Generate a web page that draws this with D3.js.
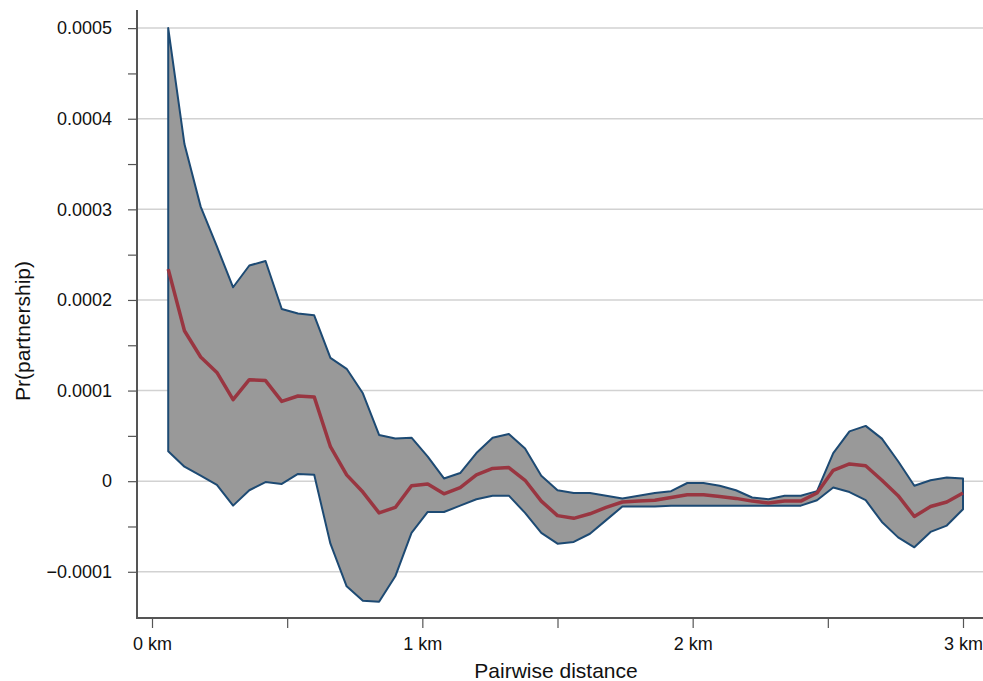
<!DOCTYPE html>
<html>
  <head>
    <title>Pr(partnership) by pairwise distance</title>
    <style>
      html,
      body {
        margin: 0;
        padding: 0;
        background: #fff;
        font-family: "Liberation Sans", Arial, sans-serif;
      }
      #viz {
        width: 983px;
        height: 681px;
      }
    </style>
  </head>
  <body>
    <div id="viz"></div>
    <script src="https://d3js.org/d3.v7.min.js"></script>
    <script>
      // distance bins (km)
      const distances = [
        0.06, 0.12, 0.18, 0.24, 0.3, 0.36, 0.42, 0.48, 0.54, 0.6,
        0.66, 0.72, 0.78, 0.84, 0.9, 0.96, 1.02, 1.08, 1.14, 1.2,
        1.26, 1.32, 1.38, 1.44, 1.5, 1.56, 1.62, 1.68, 1.74, 1.8,
        1.86, 1.92, 1.98, 2.04, 2.1, 2.16, 2.22, 2.28, 2.34, 2.4,
        2.46, 2.52, 2.58, 2.64, 2.7, 2.76, 2.82, 2.88, 2.94, 3.0,
      ];

      // point estimate
      const estimate = [
        2.34e-4, 1.66e-4, 1.37e-4, 1.2e-4, 0.9e-4, 1.12e-4, 1.11e-4, 0.88e-4, 0.94e-4, 0.93e-4,
        0.38e-4, 0.07e-4, -0.12e-4, -0.35e-4, -0.29e-4, -0.05e-4, -0.03e-4, -0.14e-4, -0.07e-4, 0.07e-4,
        0.14e-4, 0.15e-4, 0.01e-4, -0.22e-4, -0.38e-4, -0.41e-4, -0.36e-4, -0.29e-4, -0.23e-4, -0.22e-4,
        -0.21e-4, -0.18e-4, -0.15e-4, -0.15e-4, -0.17e-4, -0.19e-4, -0.22e-4, -0.24e-4, -0.22e-4, -0.22e-4,
        -0.13e-4, 0.12e-4, 0.19e-4, 0.17e-4, 0.01e-4, -0.16e-4, -0.39e-4, -0.28e-4, -0.23e-4, -0.13e-4,
      ];

      // upper bound of interval
      const upper = [
        5.0e-4, 3.72e-4, 3.03e-4, 2.59e-4, 2.14e-4, 2.38e-4, 2.43e-4, 1.9e-4, 1.85e-4, 1.83e-4,
        1.36e-4, 1.24e-4, 0.97e-4, 0.51e-4, 0.47e-4, 0.48e-4, 0.27e-4, 0.03e-4, 0.09e-4, 0.31e-4,
        0.48e-4, 0.52e-4, 0.36e-4, 0.06e-4, -0.1e-4, -0.13e-4, -0.13e-4, -0.16e-4, -0.19e-4, -0.16e-4,
        -0.13e-4, -0.11e-4, -0.02e-4, -0.02e-4, -0.05e-4, -0.1e-4, -0.18e-4, -0.2e-4, -0.16e-4, -0.16e-4,
        -0.11e-4, 0.31e-4, 0.55e-4, 0.61e-4, 0.47e-4, 0.22e-4, -0.05e-4, 0.01e-4, 0.04e-4, 0.03e-4,
      ];

      // lower bound of interval
      const lower = [
        0.33e-4, 0.16e-4, 0.06e-4, -0.04e-4, -0.27e-4, -0.1e-4, -0.01e-4, -0.03e-4, 0.08e-4, 0.07e-4,
        -0.69e-4, -1.16e-4, -1.32e-4, -1.33e-4, -1.05e-4, -0.57e-4, -0.34e-4, -0.34e-4, -0.27e-4, -0.2e-4,
        -0.16e-4, -0.16e-4, -0.35e-4, -0.57e-4, -0.69e-4, -0.67e-4, -0.58e-4, -0.43e-4, -0.28e-4, -0.28e-4,
        -0.28e-4, -0.27e-4, -0.27e-4, -0.27e-4, -0.27e-4, -0.27e-4, -0.27e-4, -0.27e-4, -0.27e-4, -0.27e-4,
        -0.21e-4, -0.07e-4, -0.12e-4, -0.21e-4, -0.45e-4, -0.62e-4, -0.73e-4, -0.56e-4, -0.49e-4, -0.31e-4,
      ];

      const xTicks = [0, 1, 2, 3];
      const xTickLabels = ["0 km", "1 km", "2 km", "3 km"];
      const xMinorTicks = [0.5, 1.5, 2.5];
      const yTicks = [-0.0001, 0, 0.0001, 0.0002, 0.0003, 0.0004, 0.0005];
      const yTickLabels = ["\u22120.0001", "0", "0.0001", "0.0002", "0.0003", "0.0004", "0.0005"];
      const yMinorTicks = [-0.00005, 0.00005, 0.00015, 0.00025, 0.00035, 0.00045];

      const width = 983;
      const height = 681;
      const axisX = 137;
      const axisY = 618;
      const font = "'Liberation Sans', Arial, sans-serif";

      const xScale = d3.scaleLinear().domain([0, 3]).range([152, 963]);
      const yScale = d3.scaleLinear().domain([-0.000151, 0.00052]).range([618, 10]);

      const rows = distances.map((d, i) => ({
        d: d,
        est: estimate[i],
        lo: lower[i],
        hi: upper[i],
      }));

      const svg = d3
        .select("#viz")
        .append("svg")
        .attr("width", width)
        .attr("height", height)
        .attr("font-family", font);

      // gridlines
      svg
        .append("g")
        .selectAll("line")
        .data(yTicks)
        .join("line")
        .attr("x1", axisX)
        .attr("x2", width)
        .attr("y1", (d) => yScale(d))
        .attr("y2", (d) => yScale(d))
        .attr("stroke", "#d2d2d2")
        .attr("stroke-width", 1.5);

      // band
      const band = d3
        .area()
        .x((d) => xScale(d.d))
        .y0((d) => yScale(d.lo))
        .y1((d) => yScale(d.hi));

      svg
        .append("path")
        .datum(rows)
        .attr("d", band(rows) + "Z")
        .attr("fill", "#999999")
        .attr("stroke", "#1d4a73")
        .attr("stroke-width", 2)
        .attr("stroke-linejoin", "round");

      const estLine = d3
        .line()
        .x((d) => xScale(d.d))
        .y((d) => yScale(d.est));

      svg
        .append("path")
        .datum(rows)
        .attr("d", estLine)
        .attr("fill", "none")
        .attr("stroke", "#993641")
        .attr("stroke-width", 3.5)
        .attr("stroke-linejoin", "round");

      // y axis
      const yAxis = d3
        .axisLeft(yScale)
        .tickValues(yTicks)
        .tickSize(9)
        .tickPadding(16)
        .tickFormat((d, i) => yTickLabels[i]);
      const gy = svg.append("g").attr("transform", `translate(${axisX},0)`).call(yAxis);
      gy.select(".domain").remove();
      gy.attr("font-family", font).attr("font-size", 18);
      gy.selectAll(".tick line").attr("stroke", "#555").attr("stroke-width", 1.2);
      gy.selectAll(".tick text").attr("fill", "#111");

      const gyMinor = svg
        .append("g")
        .attr("transform", `translate(${axisX},0)`)
        .call(d3.axisLeft(yScale).tickValues(yMinorTicks).tickSize(9).tickFormat(""));
      gyMinor.select(".domain").remove();
      gyMinor.selectAll(".tick line").attr("stroke", "#555").attr("stroke-width", 1.2);

      // x axis
      const xAxis = d3
        .axisBottom(xScale)
        .tickValues(xTicks)
        .tickSize(10)
        .tickPadding(9)
        .tickFormat((d, i) => xTickLabels[i]);
      const gx = svg.append("g").attr("transform", `translate(0,${axisY})`).call(xAxis);
      gx.select(".domain").remove();
      gx.attr("font-family", font).attr("font-size", 18);
      gx.selectAll(".tick line").attr("stroke", "#555").attr("stroke-width", 1.2);
      gx.selectAll(".tick text").attr("fill", "#111");

      const gxMinor = svg
        .append("g")
        .attr("transform", `translate(0,${axisY})`)
        .call(d3.axisBottom(xScale).tickValues(xMinorTicks).tickSize(10).tickFormat(""));
      gxMinor.select(".domain").remove();
      gxMinor.selectAll(".tick line").attr("stroke", "#555").attr("stroke-width", 1.2);

      // axis lines
      svg
        .append("line")
        .attr("x1", axisX)
        .attr("x2", axisX)
        .attr("y1", 10)
        .attr("y2", axisY + 1)
        .attr("stroke", "#555")
        .attr("stroke-width", 2);
      svg
        .append("line")
        .attr("x1", axisX - 1)
        .attr("x2", width)
        .attr("y1", axisY)
        .attr("y2", axisY)
        .attr("stroke", "#555")
        .attr("stroke-width", 2);

      // titles
      svg
        .append("text")
        .attr("x", 556)
        .attr("y", 678)
        .attr("text-anchor", "middle")
        .attr("font-size", 21)
        .attr("fill", "#111")
        .text("Pairwise distance");

      svg
        .append("text")
        .attr("transform", "translate(30,331) rotate(-90)")
        .attr("text-anchor", "middle")
        .attr("font-size", 21)
        .attr("fill", "#111")
        .text("Pr(partnership)");
    </script>
  </body>
</html>
